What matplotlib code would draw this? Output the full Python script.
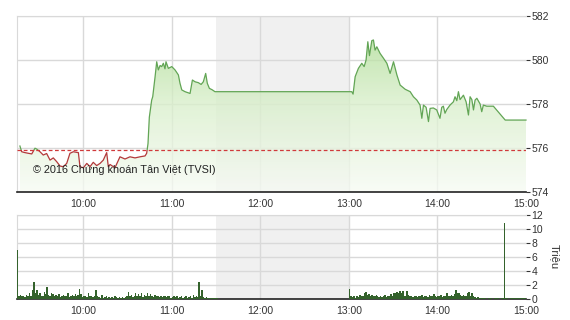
import matplotlib
matplotlib.use("Agg")
import matplotlib.pyplot as plt
from matplotlib.colors import LinearSegmentedColormap
from matplotlib.patches import Rectangle
import numpy as np

plt.rcParams['font.family'] = ['Liberation Sans', 'DejaVu Sans']

# price: minutes after 09:00, index value
price_min = [17.0, 18.2, 20.4, 25.0, 27.2, 28.4, 30.6, 32.8, 35.1, 37.4, 39.6, 41.9, 44.2, 46.4,
             48.7, 50.9, 53.2, 55.5, 56.6, 57.7, 60.0, 62.3, 64.5, 66.7, 69.0, 71.3, 73.5, 75.8,
             76.9, 78.1, 81.4, 84.8, 88.2, 91.6, 95.0, 98.4, 101.8, 102.9, 103.8, 104.7, 106.3,
             107.0, 108.6, 109.7, 110.8, 112.0, 113.1, 114.2, 115.3, 116.0, 117.6, 119.9, 122.1,
             124.4, 125.5, 126.7, 128.9, 132.3, 133.9, 135.7, 137.9, 139.8, 141.3, 142.9, 144.0,
             145.4, 147.2, 149.2, 150.0, 240.0, 241.9, 242.8, 244.2, 246.4, 248.7, 250.3, 251.6,
             252.8, 253.9, 255.5, 256.6, 257.7, 258.9, 261.1, 263.4, 265.7, 267.9, 270.2, 272.5,
             274.7, 278.1, 281.5, 283.7, 286.0, 288.2, 289.4, 290.5, 292.3, 293.9, 295.0, 297.2,
             299.5, 301.7, 302.9, 304.0, 305.1, 306.3, 308.5, 310.8, 311.9, 313.1, 314.2, 315.3,
             317.6, 319.4, 321.0, 322.1, 323.3, 324.4, 325.5, 326.7, 328.9, 330.0, 331.1, 333.4,
             337.9, 345.9, 360.0]
price_val = [576.09, 575.83, 575.79, 575.73, 575.99, 575.95, 575.83, 575.68, 575.75, 575.45,
             575.55, 575.38, 575.18, 575.15, 575.30, 575.76, 575.83, 575.80, 575.79, 575.15,
             575.10, 575.30, 575.15, 575.35, 575.20, 575.30, 575.45, 575.79, 575.15, 575.25,
             575.10, 575.60, 575.50, 575.60, 575.55, 575.60, 575.64, 575.76, 576.20, 577.40,
             578.18, 578.33, 579.24, 579.92, 579.55, 579.75, 579.70, 579.85, 579.60, 579.92,
             579.62, 579.70, 579.55, 579.32, 578.94, 578.64, 578.56, 578.48, 579.09, 579.01,
             578.97, 578.89, 579.01, 579.39, 578.94, 578.71, 578.65, 578.56, 578.56, 578.56,
             578.56, 578.45, 579.24, 579.62, 579.85, 579.70, 580.00, 580.83, 580.20, 580.88,
             580.91, 580.45, 580.60, 580.30, 580.08, 579.85, 579.39, 579.92, 579.32, 578.86,
             578.67, 578.56, 578.33, 578.18, 577.95, 577.35, 577.95, 577.85, 577.20, 577.80,
             577.82, 577.73, 577.35, 577.85, 577.90, 577.58, 577.75, 577.95, 578.10, 578.33,
             578.15, 578.56, 578.20, 578.40, 578.10, 577.50, 578.33, 578.20, 577.73, 578.18,
             578.26, 578.00, 577.65, 577.95, 577.90, 577.90, 577.27, 577.27]
ref_price = 575.89

# volume in million shares, one bar per minute
vol_am = [7.0,
          0.5, 0.6, 0.4, 0.5, 0.3, 0.6, 0.5, 0.8, 0.4, 1.3,
          2.5, 0.9, 1.3, 0.6, 0.8, 0.5, 0.4, 1.0, 0.7, 1.7,
          0.6, 0.5, 0.8, 0.7, 0.4, 0.6, 0.5, 0.7, 0.3, 0.5,
          0.6, 0.4, 0.5, 0.8, 0.3, 0.5, 0.6, 0.4, 0.7, 0.5,
          0.6, 1.5, 0.7, 0.3, 0.5, 0.4, 0.3, 0.8, 0.5, 0.4,
          0.3, 0.4, 1.3, 0.5, 0.3, 0.2, 0.6, 0.2, 0.3, 0.4,
          0.2, 0.3, 0.2, 0.3, 0.2, 0.4, 0.3, 0.2, 0.3, 0.2,
          0.3, 0.2, 0.3, 0.5, 1.0, 0.4, 0.6, 0.3, 0.5, 0.8,
          0.4, 0.7, 0.5, 0.9, 0.3, 0.6, 0.5, 0.8, 0.4, 0.7,
          0.5, 0.3, 0.6, 0.4, 0.5, 0.3, 0.4, 0.3, 0.5, 0.4,
          0.3, 0.5, 0.4, 0.2, 0.3, 0.4, 0.3, 0.5, 0.2, 0.3,
          0.4, 0.2, 0.3, 0.5, 0.2, 0.3, 0.4, 0.2, 0.6, 0.3,
          0.5, 0.3, 2.4, 0.4, 1.3, 0.3, 0.2, 0.3, 0.2, 0.1,
          0.2, 0.1, 0.1, 0.1, 0.1]
vol_pm = [1.4,
          0.4, 0.3, 0.5, 0.2, 0.4, 0.3, 0.6, 0.4, 0.5, 0.8,
          1.0, 0.6, 0.7, 0.5, 0.6, 0.4, 0.5, 0.6, 0.4, 0.3,
          0.5, 0.3, 0.4, 0.6, 0.3, 0.5, 0.4, 0.7, 0.5, 0.8,
          0.9, 1.0, 0.8, 1.1, 0.9, 1.2, 0.5, 0.4, 1.2, 0.6,
          0.5, 0.4, 0.3, 0.5, 0.4, 0.3, 0.5, 0.4, 0.6, 0.3,
          0.4, 0.5, 0.3, 0.6, 0.4, 0.5, 0.7, 0.4, 0.3, 0.5,
          0.4, 0.6, 0.3, 0.5, 0.4, 0.8, 0.5, 0.4, 0.6, 0.5,
          0.7, 1.3, 0.9, 0.8, 0.6, 0.5, 0.6, 0.5, 0.4, 0.9,
          1.0, 0.5, 0.8, 0.4, 0.3, 0.2, 0.3, 0.2, 0.1, 0.1,
          0.1, 0.1, 0.0, 0.1, 0.1, 0.1, 0.0, 0.1, 0.1, 0.1,
          0.1, 0.0, 0.1, 0.1, 10.8, 0.1, 0.1, 0.0, 0.1, 0.2,
          0.1, 0.1, 0.2, 0.1, 0.1, 0.2, 0.1, 0.1, 0.1, 0.2]

hour_labels = ['10:00', '11:00', '12:00', '13:00', '14:00', '15:00']
price_ticks = [574, 576, 578, 580, 582]
vol_ticks = [0, 2, 4, 6, 8, 10, 12]

t = 9 + np.array(price_min) / 60.0
p = np.array(price_val)
t_am = 9.25 + np.arange(len(vol_am)) / 60.0
t_pm = 13.0 + np.arange(len(vol_pm)) / 60.0
hour_pos = [10, 11, 12, 13, 14, 15]

fig = plt.figure(figsize=(5.7, 3.2), dpi=100)
ax = fig.add_axes([0.0298, 0.40, 0.893, 0.55])
axv = fig.add_axes([0.0298, 0.0656, 0.893, 0.2625])

grid_c = '#d9d9d9'
for a in (ax, axv):
    a.set_xlim(9.25, 15.0)
    a.axvspan(11.5, 13.0, color='#f0f0f0', zorder=0, lw=0)
    for h in hour_pos[:-1]:
        a.axvline(h, color=grid_c, lw=1, zorder=1)
    a.yaxis.tick_right()
    a.spines['right'].set_visible(False)
    a.spines['top'].set_color(grid_c)
    a.spines['left'].set_color(grid_c)
    a.spines['bottom'].set_color('#222222')
    a.spines['bottom'].set_linewidth(1.2)
    a.set_xticks(hour_pos)
    a.set_xticklabels(hour_labels)
    a.tick_params(axis='x', length=0, labelsize=7.5, colors='#333333', pad=5)
    a.tick_params(axis='y', length=3, labelsize=7.5, colors='#333333', pad=1, width=0.8)

# price panel
ax.set_ylim(574, 582)
ax.set_yticks(price_ticks)
for y in price_ticks[1:]:
    ax.axhline(y, color=grid_c, lw=1, zorder=1)

cmap = LinearSegmentedColormap.from_list('g', ['#f7fbf4', '#d9efcb', '#a4d888'])
grad = np.linspace(0, 1, 256).reshape(-1, 1)
poly = ax.fill_between(t, p, 574, color='none', lw=0)
img = ax.imshow(grad, cmap=cmap, origin='lower', aspect='auto',
                extent=[9.25, 15.0, 574, 582], zorder=2, alpha=0.78)
img.set_clip_path(poly.get_paths()[0], ax.transData)
ax.set_xlim(9.25, 15.0)
ax.set_ylim(574, 582)

up = ax.plot(t, p, color='#62a555', lw=0.9, zorder=4)[0]
dn = ax.plot(t, p, color='#b3393b', lw=0.9, zorder=4)[0]
up.set_clip_path(Rectangle((9.0, ref_price), 7, 10, transform=ax.transData))
dn.set_clip_path(Rectangle((9.0, 570), 7, ref_price - 570, transform=ax.transData))
ax.axhline(ref_price, color='#d0393b', lw=0.9, ls=(0, (3, 2)), zorder=5)

ax.text(9.43, 575.0, '\u00a9 2016 Ch\u1ee9ng kho\u00e1n T\u00e2n Vi\u1ec7t (TVSI)',
        fontsize=7.8, color='#222222', va='center', ha='left', zorder=6)

# volume panel
axv.set_ylim(0, 12)
axv.set_yticks(vol_ticks)
for y in vol_ticks[1:]:
    axv.axhline(y, color=grid_c, lw=1, zorder=1)
axv.bar(t_am, vol_am, width=1 / 60.0, align='edge', color='#34622c', lw=0, zorder=3)
axv.bar(t_pm, vol_pm, width=1 / 60.0, align='edge', color='#34622c', lw=0, zorder=3)
axv.yaxis.set_label_position('right')
axv.set_ylabel('Tri\u1ec7u', rotation=270, fontsize=8, color='#333333', labelpad=12)

fig.savefig('out.png', dpi=100, facecolor='white')
